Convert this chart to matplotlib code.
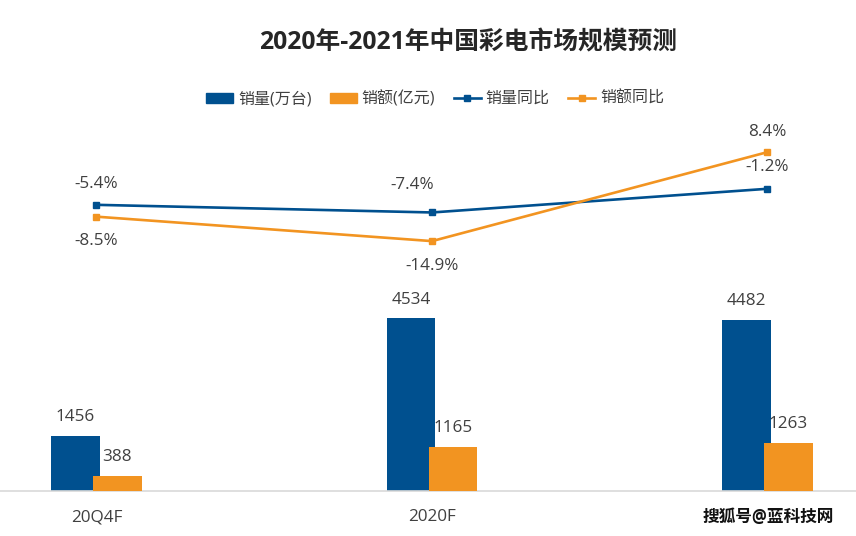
import matplotlib
matplotlib.use("Agg")
import numpy as np
from matplotlib import pyplot as plt
from matplotlib.patches import Patch
from matplotlib.lines import Line2D

plt.rcParams['font.family'] = ['Open Sans', 'Noto Sans CJK SC', 'DejaVu Sans']

categories = ['20Q4F', '2020F', '']    # third label is hidden under the watermark in the source
volume = [1456, 4534, 4482]          # 销量(万台)
revenue = [388, 1165, 1263]          # 销额(亿元)
volume_yoy = [-5.4, -7.4, -1.2]      # 销量同比 %
revenue_yoy = [-8.5, -14.9, 8.4]     # 销额同比 %

blue = '#00508F'
orange = '#F29421'
text_c = '#404040'
fs = 12.3

my_dpi = 100
fig = plt.figure(figsize=(856/my_dpi, 536/my_dpi), dpi=my_dpi, facecolor='w')
ax = fig.add_axes([0, 45/536, 1, 361/536])
ax2 = ax.twinx()

idx = np.arange(len(categories))
bar_w = 0.145
off = 0.0625
b1 = ax.bar(idx - off, volume, bar_w, color=blue, zorder=2)
b2 = ax.bar(idx + off, revenue, bar_w, color=orange, zorder=3)

for rect, v in list(zip(b1, volume)) + list(zip(b2, revenue)):
    ax.annotate(str(v), (rect.get_x() + rect.get_width()/2, rect.get_height()),
                xytext=(0, 13.5), textcoords='offset points', ha='center', va='center',
                fontsize=fs, color=text_c)

ax.set_xlim(-96.5/335.5, (856-96.5)/335.5)
ax.set_ylim(0, 361/0.0381)
ax.set_xticks(idx)
ax.set_xticklabels(categories, fontsize=fs, color=text_c)
ax.tick_params(axis='x', length=0, pad=13)
ax.set_yticks([])
for s in ['top', 'right', 'left']:
    ax.spines[s].set_visible(False)
ax.spines['bottom'].set_color('#D9D9D9')
ax.spines['bottom'].set_linewidth(1.2)

ax2.plot(idx, volume_yoy, color=blue, lw=1.9, marker='s', ms=5, zorder=4)
ax2.plot(idx, revenue_yoy, color=orange, lw=1.9, marker='s', ms=5, zorder=4)
ax2.set_ylim((184.2-491)/3.82, (184.2-130)/3.82)
ax2.set_yticks([])
for s in ax2.spines.values():
    s.set_visible(False)

# label offsets in points (dx, dy)
vol_offs = [(0, 15), (-14.5, 19.5), (0, 15.5)]
rev_offs = [(0, -17.5), (0, -18), (0, 14.5)]
for i in range(len(categories)):
    ax2.annotate('%.1f%%' % volume_yoy[i], (idx[i], volume_yoy[i]), xytext=vol_offs[i],
                 textcoords='offset points', ha='center', va='center', fontsize=fs, color=text_c)
    ax2.annotate('%.1f%%' % revenue_yoy[i], (idx[i], revenue_yoy[i]), xytext=rev_offs[i],
                 textcoords='offset points', ha='center', va='center', fontsize=fs, color=text_c)

fig.text(468/856, 1-43/536, '2020年-2021年中国彩电市场规模预测', ha='center', va='center',
         fontsize=17.8, fontweight='bold', color='#262626')

handles = [Patch(color=blue), Patch(color=orange),
           Line2D([], [], color=blue, lw=1.9, marker='s', ms=5),
           Line2D([], [], color=orange, lw=1.9, marker='s', ms=5)]
labels = ['销量(万台)', '销额(亿元)', '销量同比', '销额同比']
fig.legend(handles, labels, loc='center', bbox_to_anchor=(435/856, 1-99/536), ncol=4,
           frameon=False, fontsize=11.5, handlelength=1.7, handleheight=0.6,
           handletextpad=0.3, columnspacing=1.15, labelcolor=text_c)

fig.text(768/856, 1-517/536, '搜狐号@蓝科技网', ha='center', va='center', fontsize=12,
         fontweight='bold', color='#111111')

plt.savefig('out.png', dpi=my_dpi)
